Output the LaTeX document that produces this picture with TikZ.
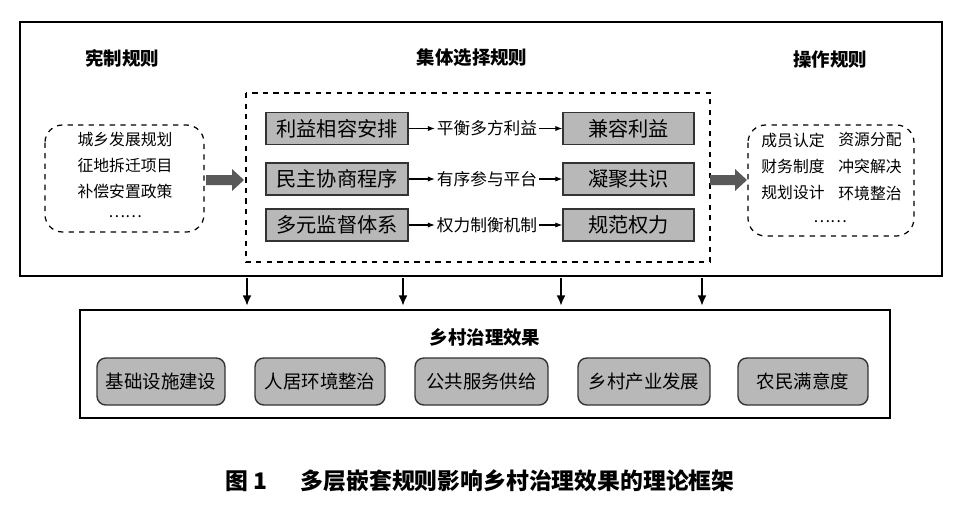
\documentclass[tikz,border=0pt]{standalone}
\usepackage{fontspec}
\setmainfont{Noto Sans CJK SC}
\usetikzlibrary{arrows.meta}
\begin{document}
\begin{tikzpicture}[x=0.02cm,y=-0.02cm,
  gbox/.style={draw=black!80,fill=black!28,line width=0.8pt,inner sep=0pt,font=\fontsize{11.5pt}{13pt}\selectfont},
  rbox/.style={gbox,rounded corners=5pt,font=\fontsize{10.5pt}{12pt}\selectfont},
  dbox/.style={draw,dashed,line width=0.7pt},
  ttl/.style={font=\bfseries\fontsize{10.5pt}{12pt}\selectfont},
  sm/.style={font=\fontsize{9pt}{10pt}\selectfont,inner sep=1pt},
  thin/.style={-{Latex[length=4pt,width=3pt]},line width=0.6pt},
  down/.style={-{Latex[length=6pt,width=5pt]},line width=1.2pt}]
\useasboundingbox (0,0) rectangle (960,508);
\draw[line width=0.8pt] (20,22) rectangle (942,276);
\node[ttl] (t1) at (122,58) {宪制规则};
\node[ttl] (t2) at (472,58) {集体选择规则};
\node[ttl] (t3) at (830,60) {操作规则};
\draw[dbox,rounded corners=10pt] (45,125) rectangle (204,232);
\node[sm] (l1) at (125,139) {城乡发展规划};
\node[sm] (l2) at (125,165) {征地拆迁项目};
\node[sm] (l3) at (125,191) {补偿安置政策};
\node[sm] (l4) at (125,217) {……};
\draw[dbox] (246,93) rectangle (710,262);
\draw[dbox,rounded corners=10pt] (748,125) rectangle (914,236);
\node[sm] (r1) at (793,140) {成员认定};
\node[sm] (r2) at (870,140) {资源分配};
\node[sm] (r3) at (793,166) {财务制度};
\node[sm] (r4) at (870,166) {冲突解决};
\node[sm] (r5) at (793,193) {规划设计};
\node[sm] (r6) at (870,193) {环境整治};
\node[sm] (r7) at (830,222) {……};
\fill[black!65] (206,175) -- (232,175) -- (232,169) -- (244,180) -- (232,191) -- (232,185) -- (206,185) -- cycle;
\fill[black!65] (710,175) -- (735,175) -- (735,169) -- (747,180) -- (735,191) -- (735,185) -- (710,185) -- cycle;
\foreach \i/\y/\a/\m/\b in {1/128.5/利益相容安排/平衡多方利益/兼容利益,2/179/民主协商程序/有序参与平台/凝聚共识,3/225/多元监督体系/权力制衡机制/规范权力}{
  \node[gbox,minimum width=2.84cm, minimum height=0.64cm] (a\i) at (337,\y) {\a};
  \node[gbox,minimum width=2.62cm, minimum height=0.64cm] (b\i) at (628.5,\y) {\b};
  \node[sm,font=\fontsize{9.5pt}{10pt}\selectfont] (m\i) at (487,\y) {\m};
  \draw[thin] (a\i.east) -- (m\i.west);
  \draw[thin] (m\i.east) -- (b\i.west);
}
\draw[line width=0.8pt] (80,310) rectangle (890,418);
\node[ttl] (bt) at (485,337) {乡村治理效果};
\foreach \x in {247,403,561,702}{
  \coordinate (d\x) at (\x,278); \coordinate (e\x) at (\x,306);
  \draw[down] (d\x) -- (e\x);
}
\foreach \i/\x/\w/\t in {1/161/2.56/基础设施建设,2/320/2.6/人居环境整治,3/481.5/2.66/公共服务供给,4/644/2.64/乡村产业发展,5/803/2.6/农民满意度}{
  \node[rbox,minimum width=\w cm,minimum height=0.94cm] (g\i) at (\x,381.5) {\t};
}
\node[font=\bfseries\fontsize{13pt}{15pt}\selectfont] (cap) at (480,481) {图 1\quad\ \ 多层嵌套规则影响乡村治理效果的理论框架};
\end{tikzpicture}
\end{document}
